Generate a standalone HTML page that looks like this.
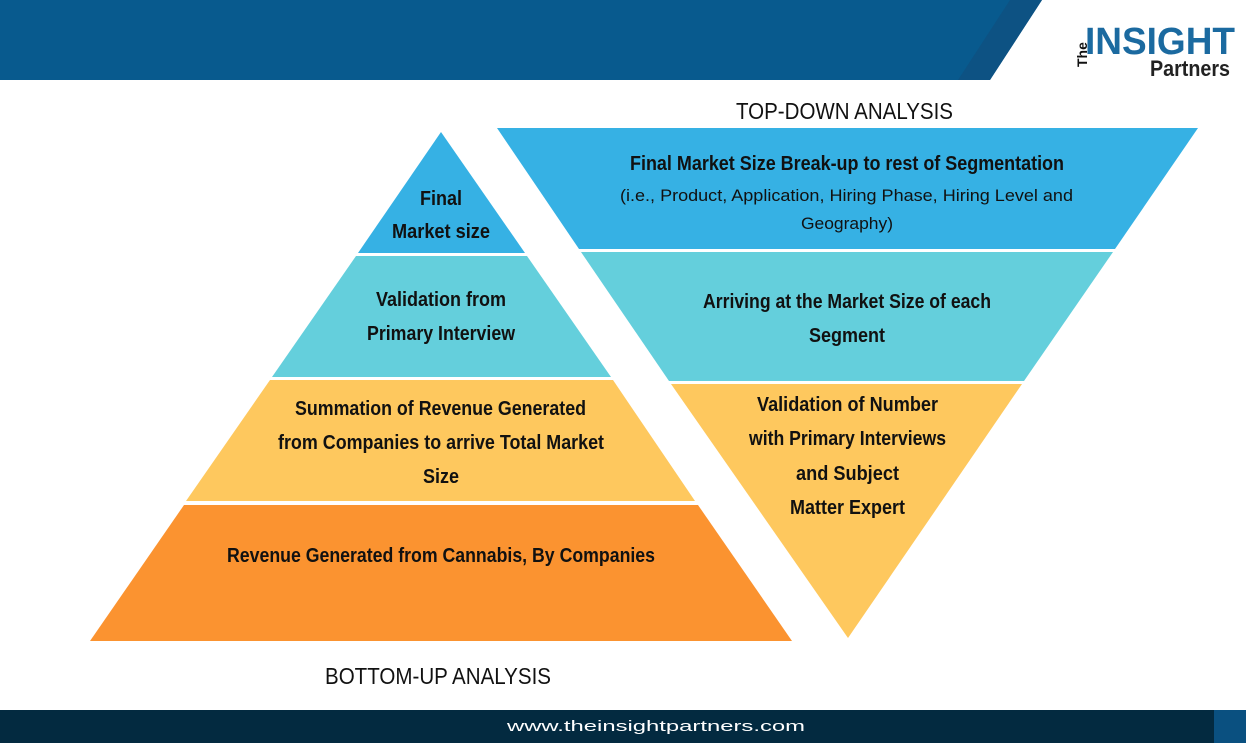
<!DOCTYPE html>
<html><head><meta charset="utf-8"><style>
html,body{margin:0;padding:0;background:#fff;width:1246px;height:743px;overflow:hidden}
svg text{font-family:"Liberation Sans",sans-serif;fill:#111}
.b{font-weight:bold;font-size:20px}
.n{font-size:17px}
</style></head><body>
<svg width="1246" height="743" viewBox="0 0 1246 743">
<polygon points="0,0 1042,0 990,80 0,80" fill="#085a8e"/>
<polygon points="1010,0 1042,0 990,80 958,80" fill="#0d5283"/>
<text x="1068" y="62" style="font-size:14px;font-weight:bold" transform="rotate(-90 1080 55)">The</text>
<text x="1085" y="54" textLength="150" lengthAdjust="spacingAndGlyphs" style="font-size:38px;font-weight:bold;fill:#1b6aa0">INSIGHT</text>
<text x="1150" y="76" textLength="80" lengthAdjust="spacingAndGlyphs" style="font-size:22px;font-weight:bold;fill:#222">Partners</text>
<!-- left pyramid -->
<polygon points="441,132 525,253 358,253" fill="#36b1e4"/>
<polygon points="356,256 527,256 611,377 272,377" fill="#64cfdc"/>
<polygon points="270,380 613,380 695,501 186,501" fill="#fec85e"/>
<polygon points="184,505 698,505 792,641 90,641" fill="#fb9330"/>
<!-- inverted -->
<polygon points="497,128 1198,128 1115,249 579,249" fill="#36b1e4"/>
<polygon points="581,252 1113,252 1024,381 669,381" fill="#64cfdc"/>
<polygon points="671,384 1022,384 848,638" fill="#fec85e"/>
<text x="736" y="119" textLength="217" lengthAdjust="spacingAndGlyphs" style="font-size:23px">TOP-DOWN ANALYSIS</text>
<text x="325" y="684" textLength="226" lengthAdjust="spacingAndGlyphs" style="font-size:23px">BOTTOM-UP ANALYSIS</text>
<g class="b">
<text x="630" y="170" textLength="434" lengthAdjust="spacingAndGlyphs">Final Market Size Break-up to rest of Segmentation</text>
<text x="703" y="308" textLength="288" lengthAdjust="spacingAndGlyphs">Arriving at the Market Size of each</text>
<text x="809" y="342" textLength="76" lengthAdjust="spacingAndGlyphs">Segment</text>
<text x="757" y="411" textLength="181" lengthAdjust="spacingAndGlyphs">Validation of Number</text>
<text x="749" y="445" textLength="197" lengthAdjust="spacingAndGlyphs">with Primary Interviews</text>
<text x="796" y="480" textLength="103" lengthAdjust="spacingAndGlyphs">and Subject</text>
<text x="790" y="514" textLength="115" lengthAdjust="spacingAndGlyphs">Matter Expert</text>
<text x="420" y="205" textLength="42" lengthAdjust="spacingAndGlyphs">Final</text>
<text x="392" y="238" textLength="98" lengthAdjust="spacingAndGlyphs">Market size</text>
<text x="376" y="306" textLength="130" lengthAdjust="spacingAndGlyphs">Validation from</text>
<text x="367" y="340" textLength="148" lengthAdjust="spacingAndGlyphs">Primary Interview</text>
<text x="295" y="415" textLength="291" lengthAdjust="spacingAndGlyphs">Summation of Revenue Generated</text>
<text x="278" y="449" textLength="326" lengthAdjust="spacingAndGlyphs">from Companies to arrive Total Market</text>
<text x="423" y="483" textLength="36" lengthAdjust="spacingAndGlyphs">Size</text>
<text x="227" y="562" textLength="428" lengthAdjust="spacingAndGlyphs">Revenue Generated from Cannabis, By Companies</text>
</g>
<g class="n">
<text x="620" y="201" textLength="453" lengthAdjust="spacingAndGlyphs">(i.e., Product, Application, Hiring Phase, Hiring Level and</text>
<text x="801" y="229" textLength="92" lengthAdjust="spacingAndGlyphs">Geography)</text>
</g>
<rect x="0" y="710" width="1246" height="33" fill="#032a40"/>
<rect x="1214" y="710" width="32" height="33" fill="#0a5080"/>
<text x="507" y="731" textLength="298" lengthAdjust="spacingAndGlyphs" style="font-size:15px;fill:#fff">www.theinsightpartners.com</text>
</svg>
</body></html>
